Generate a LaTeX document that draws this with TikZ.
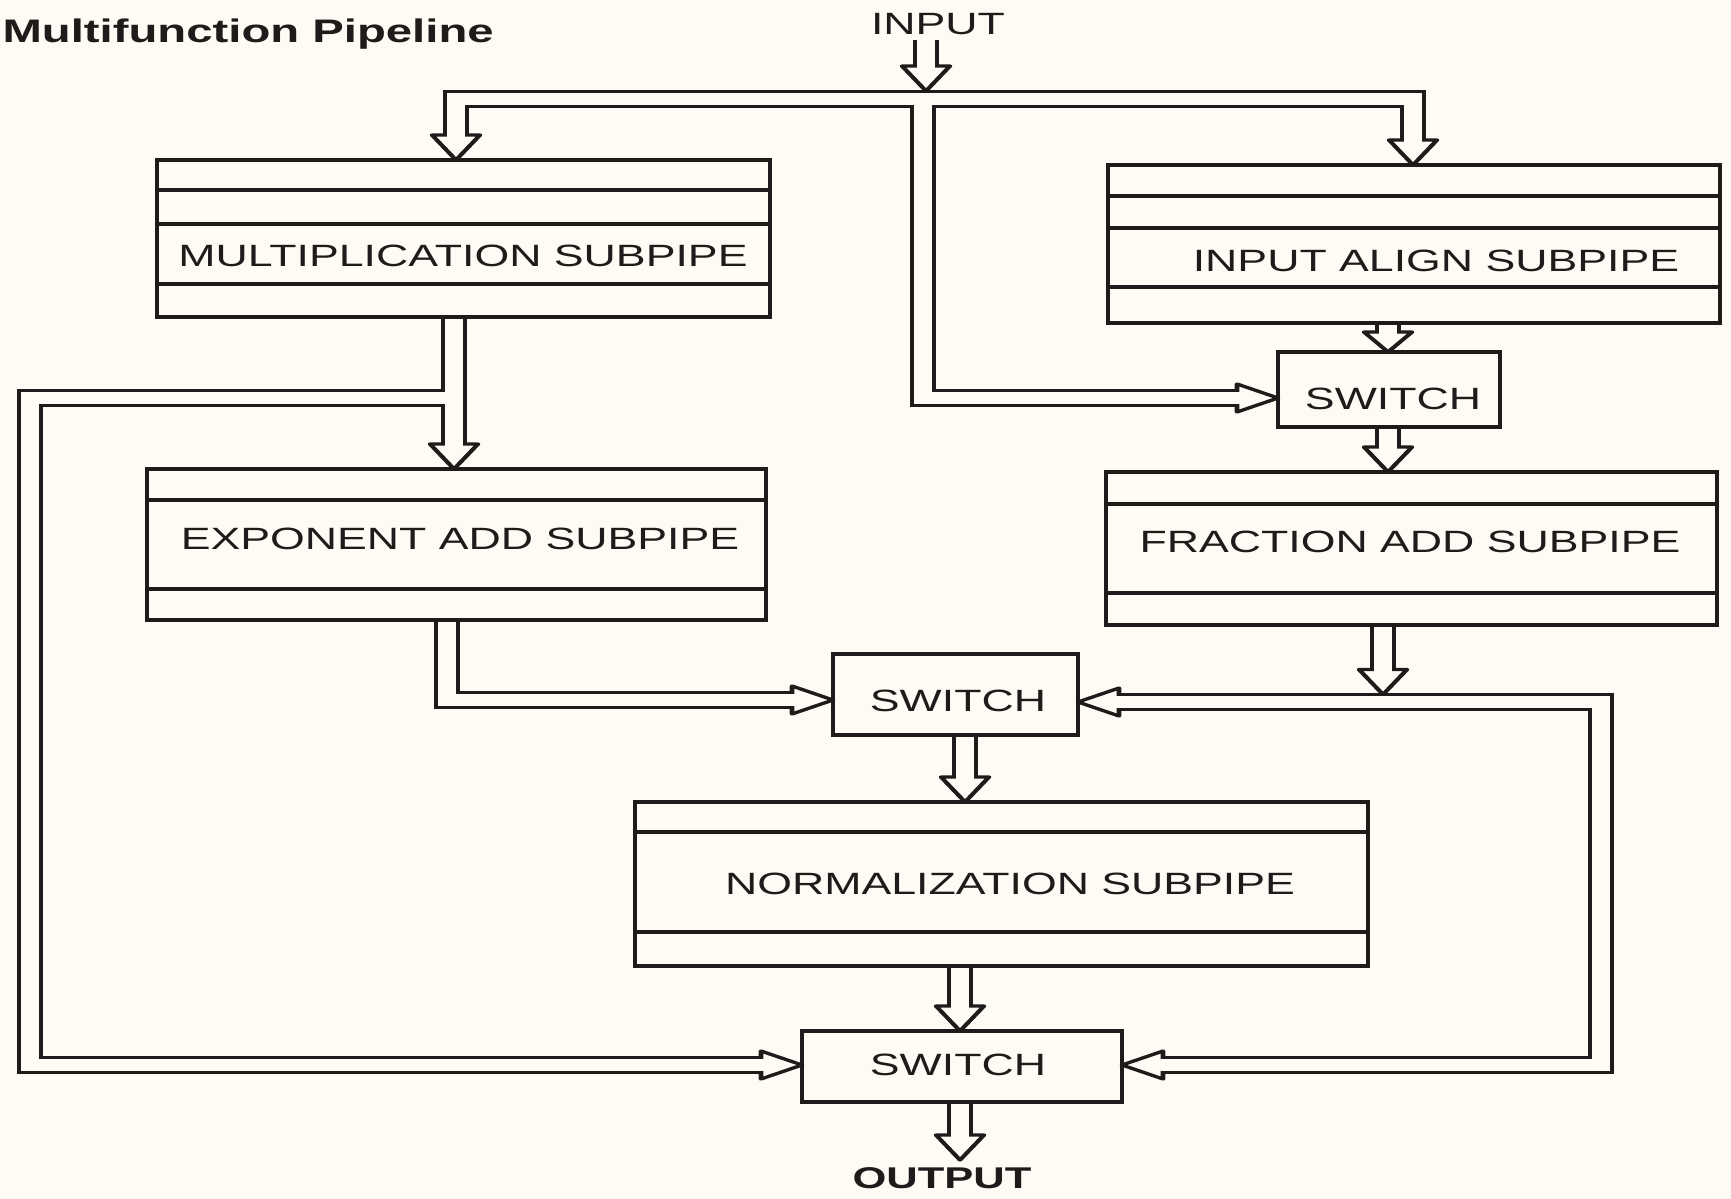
\documentclass[tikz,border=0pt]{standalone}
\usepackage{fontspec}
\setmainfont{Liberation Sans}
\usetikzlibrary{fit}
\definecolor{paper}{RGB}{253,251,243}
\definecolor{ink}{RGB}{30,28,26}
\tikzset{
  pipeB/.style={draw=ink, line width=9.1pt, line join=miter, line cap=butt},
  pipeW/.style={draw=paper, line width=5.9pt, line join=miter, line cap=butt, shorten <=-2pt, shorten >=-2pt},
  headst/.style={draw=ink, fill=paper, line width=1.6pt, line join=round},
  boxline/.style={draw=ink, line width=1.6pt, line cap=rect},
  boxsh/.style={inner sep=0pt, outer sep=0pt},
  lbl/.style={inner sep=0pt, text=ink, font=\fontsize{15.4}{18}\selectfont}
}
\newcommand\myheadD[2][25]{\filldraw[headst] (#2) -- ++(-24,-#1) -- ++(48,0) -- cycle;}
\newcommand\myheadR[1]{\filldraw[headst] (#1) -- ++(-41,-14) -- ++(0,28) -- cycle;}
\newcommand\myheadL[1]{\filldraw[headst] (#1) -- ++(41,-14) -- ++(0,28) -- cycle;}
\newcommand\myallpipes[1]{%
  \draw[#1] (inS) -- (inB);
  \draw[#1] (bL) -- (bLc) -- (bRc) -- (bR);
  \draw[#1] (cJ) -- (cC) -- (cB);
  \draw[#1] (mult.south -| mB) -- (mB);
  \draw[#1] (lJ) -- (lC1) -- (lC2) -- (lB);
  \draw[#1] (exp.south -| eC) -- (eC) -- (eB);
  \draw[#1] (ia.south -| aB) -- (aB);
  \draw[#1] (sw1.south -| sB) -- (sB);
  \draw[#1] (frac.south -| fB) -- (fB);
  \draw[#1] (rB1) -- (rC1) -- (rC2) -- (rB2);
  \draw[#1] (sw2.south -| nB) -- (nB);
  \draw[#1] (norm.south -| oB) -- (oB);
  \draw[#1] (sw3.south -| oB2) -- (oB2);
}
\newcommand\myframe[1]{\draw[boxline] (#1.north west) rectangle (#1.south east);}
\newcommand\myrule[2]{\draw[boxline] (#1.west |- 0,#2) -- (#1.east |- 0,#2);}
\begin{document}
\begin{tikzpicture}[x=0.5pt,y=-0.5pt]
\fill[paper] (0,0) rectangle (1731,1199);
\useasboundingbox (0,0) rectangle (1731,1199);
\begin{scope}[transform canvas={xscale=1.45}, x=0.3448276pt]
  % box frames (positions only)
  \node[boxsh, fit={(157,160)(770,317)}] (mult) {};
  \node[boxsh, fit={(1108,165)(1720,323)}] (ia) {};
  \node[boxsh, fit={(147,469)(766,620)}] (exp) {};
  \node[boxsh, fit={(1106,472)(1717,625)}] (frac) {};
  \node[boxsh, fit={(635,802)(1368,966)}] (norm) {};
  \node[boxsh, fit={(1278,352)(1500,427)}] (sw1) {};
  \node[boxsh, fit={(833,654)(1078,735)}] (sw2) {};
  \node[boxsh, fit={(802,1031)(1122,1102)}] (sw3) {};
  % pipe way points
  \coordinate (inS) at (926,40);
  \coordinate (inB) at (926,66);
  \coordinate (inT) at (926,91);
  \coordinate (bL) at (456,135);
  \coordinate (bLc) at (456,99);
  \coordinate (bRc) at (1413,99);
  \coordinate (bR) at (1413,140);
  \coordinate (cJ) at (923,99);
  \coordinate (cC) at (923,398);
  \coordinate (cB) at (1237,398);
  \coordinate (mB) at (454,444);
  \coordinate (lJ) at (454,398);
  \coordinate (lC1) at (30,398);
  \coordinate (lC2) at (30,1065);
  \coordinate (lB) at (761,1065);
  \coordinate (eC) at (447,700);
  \coordinate (eB) at (792,700);
  \coordinate (aB) at (1388,332);
  \coordinate (sB) at (1388,447);
  \coordinate (fB) at (1383,669.5);
  \coordinate (fT) at (1383,694.5);
  \coordinate (rB1) at (1119,702);
  \coordinate (rC1) at (1601,702);
  \coordinate (rC2) at (1601,1065);
  \coordinate (rB2) at (1163,1065);
  \coordinate (nB) at (965,777);
  \coordinate (oB) at (960,1006);
  \coordinate (oB2) at (960,1135);
  \coordinate (oT) at (960,1160);
  % pipes: outer walls
  \myallpipes{pipeB}
  % arrow heads
  \myheadD{inT}
  \myheadD{mult.north -| bL}
  \myheadD{ia.north -| bR}
  \myheadR{sw1.west |- cB}
  \myheadD{exp.north -| mB}
  \myheadR{sw3.west |- lB}
  \myheadR{sw2.west |- eB}
  \myheadD[20]{sw1.north -| aB}
  \myheadD{frac.north -| sB}
  \myheadD{fT}
  \myheadL{sw2.east |- rB1}
  \myheadL{sw3.east |- rB2}
  \myheadD{norm.north -| nB}
  \myheadD{sw3.north -| oB}
  \myheadD{oT}
  % pipes: hollow interiors
  \myallpipes{pipeW}
  % boxes
  \myframe{mult} \myrule{mult}{190} \myrule{mult}{224} \myrule{mult}{284}
  \myframe{ia} \myrule{ia}{196} \myrule{ia}{228} \myrule{ia}{287}
  \myframe{exp} \myrule{exp}{500} \myrule{exp}{589}
  \myframe{frac} \myrule{frac}{504} \myrule{frac}{593}
  \myframe{norm} \myrule{norm}{832} \myrule{norm}{932}
  \myframe{sw1} \myframe{sw2} \myframe{sw3}
  % labels
  \node[lbl, font=\bfseries\fontsize{16.3}{19}\selectfont, anchor=base west] (title) at (2,42) {Multifunction Pipeline};
  \node[lbl, anchor=base] (inputT) at (938,34) {INPUT};
  \node[lbl, font=\bfseries\fontsize{15}{18}\selectfont, anchor=base] (outputT) at (942,1188) {OUTPUT};
  \node[lbl] (multT) at (463,255.5) {MULTIPLICATION SUBPIPE};
  \node[lbl] (iaT) at (1436,260.5) {INPUT ALIGN SUBPIPE};
  \node[lbl] (expT) at (460,538.5) {EXPONENT ADD SUBPIPE};
  \node[lbl] (fracT) at (1410,541.5) {FRACTION ADD SUBPIPE};
  \node[lbl] (normT) at (1010,883.5) {NORMALIZATION SUBPIPE};
  \node[lbl] (sw1T) at (1393,398.5) {SWITCH};
  \node[lbl] (sw2T) at (958,701) {SWITCH};
  \node[lbl] (sw3T) at (958,1064.5) {SWITCH};
\end{scope}
\end{tikzpicture}
\end{document}
